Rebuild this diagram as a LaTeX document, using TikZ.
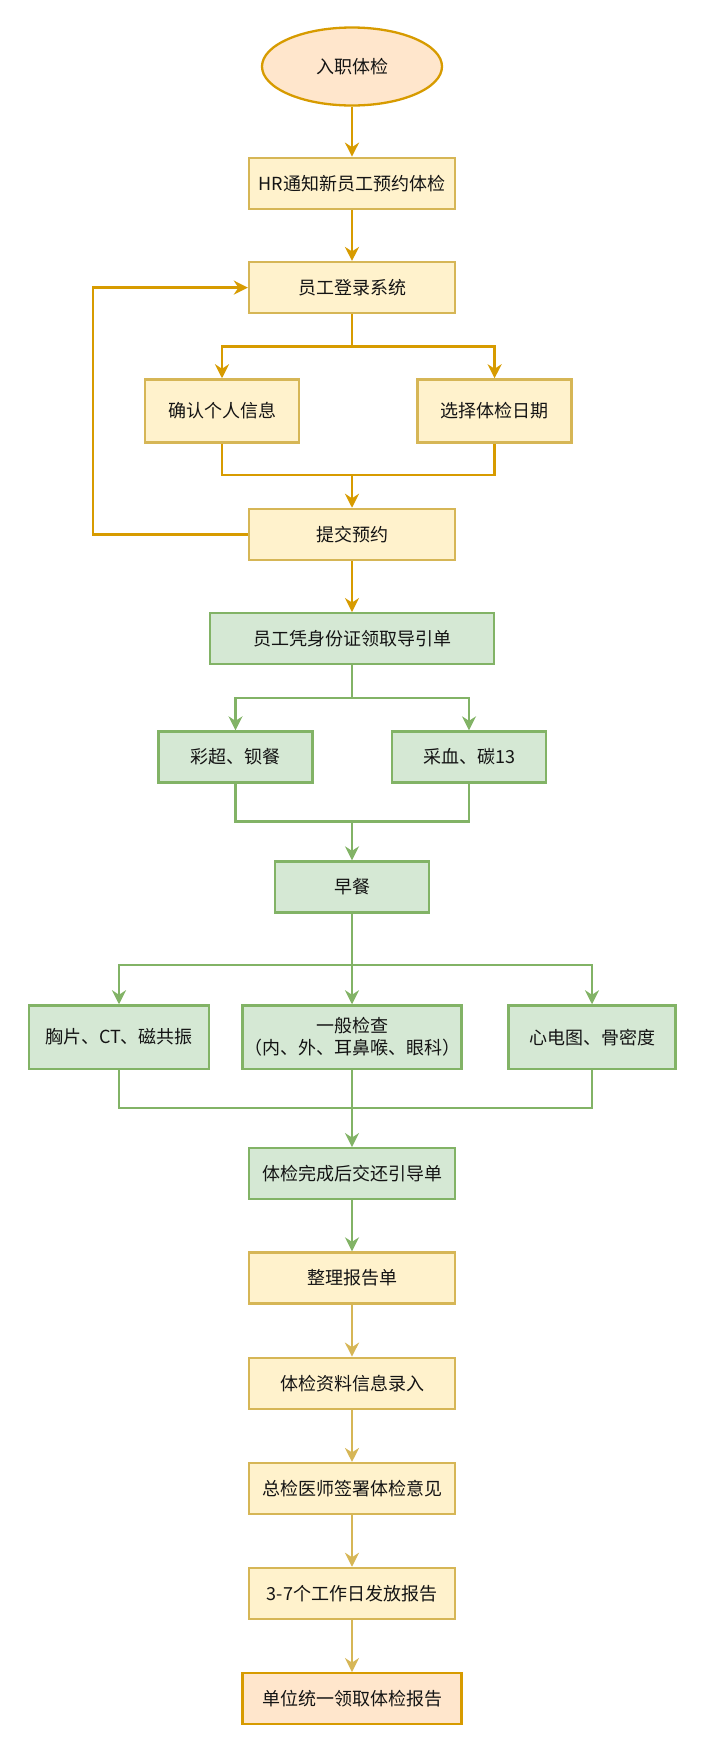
\documentclass[tikz,border=0pt]{standalone}
\usepackage{fontspec}
\setmainfont{Noto Sans CJK SC}
\usetikzlibrary{positioning, shapes.geometric, arrows.meta}
\definecolor{orangefill}{HTML}{FFE6CC}
\definecolor{orangeline}{HTML}{D79B00}
\definecolor{yellowfill}{HTML}{FFF2CC}
\definecolor{yellowline}{HTML}{D6B656}
\definecolor{greenfill}{HTML}{D5E8D4}
\definecolor{greenline}{HTML}{82B366}
\definecolor{textgray}{HTML}{141414}
\tikzset{
>={Stealth[length=14pt, width=14pt, inset=4.5pt]}, % heads like the draw.io ones
x=1pt, y=1pt, % one unit is one pixel of the original
box/.style={rectangle, line width=2.3pt, text=textgray, font=\fontsize{18}{22}\selectfont,
  align=center, inner sep=0pt, minimum width=206pt, minimum height=51pt},
ybox/.style={box, draw=yellowline, fill=yellowfill},
gbox/.style={box, draw=greenline, fill=greenfill},
obox/.style={box, draw=orangeline, fill=orangefill},
terminal/.style={obox, ellipse, minimum width=180pt, minimum height=78pt},
oline/.style={->, line width=2.5pt, draw=orangeline},
gline/.style={->, line width=2.5pt, draw=greenline},
yline/.style={->, line width=2.5pt, draw=yellowline},
}

\begin{document}
\begin{tikzpicture}
        \useasboundingbox (0,0) rectangle (703,-1741);

        % booking part
        \node[terminal] (hire) at (352,-66.5) {入职体检};
        \node[ybox, below=50pt of hire] (notify) {HR通知新员工预约体检};
        \node[ybox, below=51pt of notify] (login) {员工登录系统};
        \node[ybox, below=64pt of login, xshift=-130pt, minimum width=154pt, minimum height=63pt] (confirm) {确认个人信息};
        \node[ybox, below=64pt of login, xshift=142.6pt, minimum width=154pt, minimum height=63pt] (choose) {选择体检日期};
        \node[ybox, below=193.5pt of login] (submit) {提交预约};

        % examination part
        \node[gbox, below=51pt of submit, minimum width=284pt] (voucher) {员工凭身份证领取导引单};
        \node[gbox, below=65pt of voucher, xshift=-116.5pt, minimum width=154pt] (ultrasound) {彩超、钡餐};
        \node[gbox, below=65pt of voucher, xshift=117pt, minimum width=154pt] (blood) {采血、碳13};
        \node[gbox, below=195pt of voucher, minimum width=154pt] (breakfast) {早餐};
        \node[gbox, below=90.6pt of breakfast, xshift=-233pt, minimum width=180pt, minimum height=63.5pt] (chest) {胸片、CT、磁共振};
        \node[gbox, below=90.6pt of breakfast, minimum width=219pt, minimum height=63.5pt] (general) {一般检查\\（内、外、耳鼻喉、眼科）};
        \node[gbox, below=90.6pt of breakfast, xshift=240pt, minimum width=167pt, minimum height=63.5pt] (ecg) {心电图、骨密度};
        \node[gbox, below=77pt of general] (finish) {体检完成后交还引导单};

        % report part
        \node[ybox, below=51pt of finish] (sort) {整理报告单};
        \node[ybox, below=52pt of sort] (record) {体检资料信息录入};
        \node[ybox, below=52pt of record] (sign) {总检医师签署体检意见};
        \node[ybox, below=51.5pt of sign] (issue) {3-7个工作日发放报告};
        \node[obox, below=52pt of issue, minimum width=219pt] (collect) {单位统一领取体检报告};

        \coordinate[below=32pt of login] (s1);
        \coordinate[above=33pt of submit] (m1);
        \coordinate[below=32.6pt of voucher] (s2);
        \coordinate[above=39pt of breakfast] (m2);
        \coordinate[below=51.5pt of breakfast] (s3);
        \coordinate[above=39pt of finish] (m3);

        \draw[oline] (hire) -- (notify);
        \draw[oline] (notify) -- (login);
        \draw[oline] (login) -- (s1) -| (confirm);
        \draw[oline] (s1) -| (choose);
        \draw[oline, -] (confirm) |- (m1) -| (choose);
        \draw[oline] (m1) -- (submit);
        \draw[oline] (submit.west) -- ++(-155,0) |- (login.west);
        \draw[oline] (submit) -- (voucher);

        \draw[gline] (voucher) -- (s2) -| (ultrasound);
        \draw[gline] (s2) -| (blood);
        \draw[gline, -] (ultrasound) |- (m2) -| (blood);
        \draw[gline] (m2) -- (breakfast);
        \draw[gline] (breakfast) -- (general);
        \draw[gline] (s3) -| (chest);
        \draw[gline] (s3) -| (ecg);
        \draw[gline, -] (chest) |- (m3) -| (ecg);
        \draw[gline] (general) -- (finish);
        \draw[gline] (finish) -- (sort);

        \draw[yline] (sort) -- (record);
        \draw[yline] (record) -- (sign);
        \draw[yline] (sign) -- (issue);
        \draw[yline] (issue) -- (collect);
\end{tikzpicture}
\end{document}
